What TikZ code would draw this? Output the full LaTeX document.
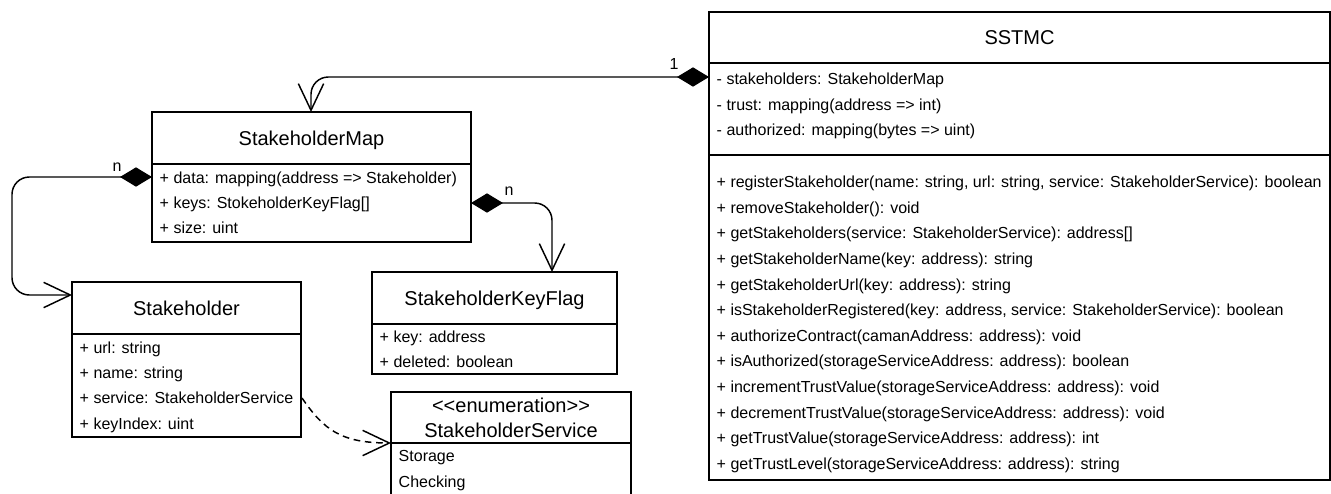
\documentclass[tikz,border=0pt]{standalone}
\usepackage{fontspec}
\setmainfont{Liberation Sans}[Ligatures=TeXOff]
\usetikzlibrary{arrows.meta,calc}

\begin{document}
\begin{tikzpicture}[x=0.75pt,y=-0.75pt,line width=1.1pt,
  classbox/.style 2 args={draw,anchor=north west,inner sep=0pt,outer sep=0pt,
    minimum width=#1*0.75pt,minimum height=#2*0.75pt},
  member/.style={anchor=west,inner sep=0pt,font=\fontsize{12}{14}\selectfont,
    text height=8.6pt,text depth=0pt},
  classtitle/.style={anchor=center,inner sep=0pt,font=\fontsize{15}{18}\selectfont,
    text height=10.7pt,text depth=0pt},
  mult/.style={anchor=base,inner sep=0pt,font=\fontsize{12}{14}\selectfont},
  comp/.style={{Diamond[length=24pt,width=14.5pt]}-{Straight Barb[length=20pt,width=19pt]},
    rounded corners=13pt},
  dep/.style={dash pattern=on 5pt off 3.5pt,-{Straight Barb[length=20pt,width=19pt]}},
]
\useasboundingbox (0,0) rectangle (1331,493);
\clip (0,0) rectangle (1331,493);

% ---------------- SSTMC ----------------
\node[classbox={621}{468}] (sstmc) at (709,12) {};
\draw ($(sstmc.north west)+(0,51)$) -- ($(sstmc.north east)+(0,51)$);
\draw ($(sstmc.north west)+(0,143)$) -- ($(sstmc.north east)+(0,143)$);
\node[classtitle] (sstmcT) at (1019.5,37) {SSTMC};
\node[member] (sa1) at (716,79) {- stakeholders: StakeholderMap};
\node[member] (sa2) at (716,104.5) {- trust: mapping(address => int)};
\node[member] (sa3) at (716,130) {- authorized: mapping(bytes => uint)};
\foreach \t [count=\i from 0] in {%
  {+ registerStakeholder(name: string, url: string, service: StakeholderService): boolean},
  {+ removeStakeholder(): void},
  {+ getStakeholders(service: StakeholderService): address[]},
  {+ getStakeholderName(key: address): string},
  {+ getStakeholderUrl(key: address): string},
  {+ isStakeholderRegistered(key: address, service: StakeholderService): boolean},
  {+ authorizeContract(camanAddress: address): void},
  {+ isAuthorized(storageServiceAddress: address): boolean},
  {+ incrementTrustValue(storageServiceAddress: address): void},
  {+ decrementTrustValue(storageServiceAddress: address): void},
  {+ getTrustValue(storageServiceAddress: address): int},
  {+ getTrustLevel(storageServiceAddress: address): string}}
  \node[member] (sm\i) at (716,{182+25.6*\i}) {\t};

% ---------------- StakeholderMap ----------------
\node[classbox={319}{130}] (map) at (152,112) {};
\draw ($(map.north west)+(0,52)$) -- ($(map.north east)+(0,52)$);
\node[classtitle] (mapT) at (311.5,138) {StakeholderMap};
\node[member] (ma1) at (159,177.3) {+ data: mapping(address => Stakeholder)};
\node[member] (ma2) at (159,202.7) {+ keys: StokeholderKeyFlag[]};
\node[member] (ma3) at (159,227.7) {+ size: uint};

% ---------------- Stakeholder ----------------
\node[classbox={229}{155}] (stk) at (72,282) {};
\draw ($(stk.north west)+(0,52)$) -- ($(stk.north east)+(0,52)$);
\node[classtitle] (stkT) at (186.5,308) {Stakeholder};
\node[member] (st1) at (79,347.5) {+ url: string};
\node[member] (st2) at (79,372.8) {+ name: string};
\node[member] (st3) at (79,398.1) {+ service: StakeholderService};
\node[member] (st4) at (79,423.4) {+ keyIndex: uint};

% ---------------- StakeholderKeyFlag ----------------
\node[classbox={245}{102}] (kf) at (372,272) {};
\draw ($(kf.north west)+(0,52)$) -- ($(kf.north east)+(0,52)$);
\node[classtitle] (kfT) at (494.5,298) {StakeholderKeyFlag};
\node[member] (kf1) at (379,337) {+ key: address};
\node[member] (kf2) at (379,362) {+ deleted: boolean};

% ---------------- StakeholderService ----------------
\node[classbox={240}{115}] (enum) at (391,392) {};
\draw ($(enum.north west)+(0,51)$) -- ($(enum.north east)+(0,51)$);
\node[classtitle] (enT1) at (511,405) {<<enumeration>>};
\node[classtitle] (enT2) at (511,430) {StakeholderService};
\node[member] (en1) at (398,456) {Storage};
\node[member] (en2) at (398,482) {Checking};

% ---------------- Associations ----------------
\coordinate (sA) at ($(sstmc.north west)+(0,65)$);
\coordinate (mT) at ($(map.north west)+(159,0)$);
\draw[comp] (sA) -| (mT);
\node[mult] (m1) at (674,69) {1};

\coordinate (mW) at ($(map.north west)+(0,65)$);
\coordinate (sW) at ($(stk.north west)+(0,13)$);
\draw[comp] (mW) -| ($(sW)+(-60,0)$) -- (sW);
\node[mult] (m2) at (117,171) {n};

\coordinate (mE) at ($(map.north east)+(0,91)$);
\coordinate (kT) at ($(kf.north west)+(180,0)$);
\draw[comp] (mE) -| (kT);
\node[mult] (m3) at (509,195) {n};

\coordinate (dS) at ($(stk.north east)+(1,116)$);
\coordinate (dE) at ($(enum.north west)+(0,51)$);
\draw[dep] (dS) .. controls ($(dS)+(22,32)$) and ($(dE)+(-50,0)$) .. (dE);
\end{tikzpicture}
\end{document}
